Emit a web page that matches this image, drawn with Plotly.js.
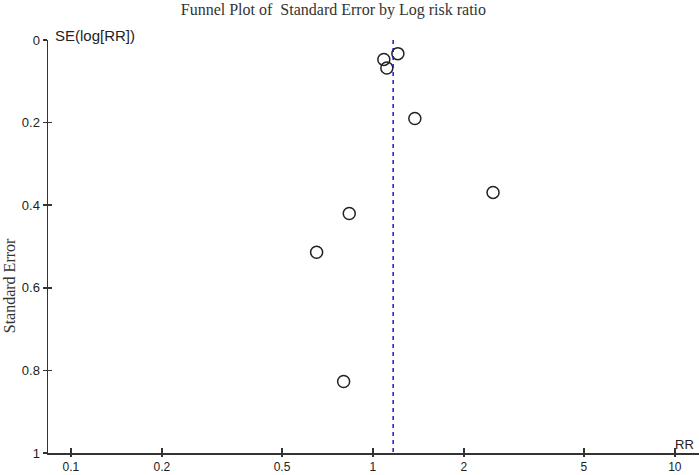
<!DOCTYPE html>
<html>
<head>
<meta charset="utf-8">
<script src="https://cdn.plot.ly/plotly-3.0.1.min.js"></script>
<style>html,body{margin:0;padding:0;background:#fff;}#chart{width:699px;height:475px;}</style>
</head>
<body>
<div id="chart"></div>
<script>
// Study estimates
const riskRatio = [1.087, 1.21, 1.112, 1.377, 2.50, 0.835, 0.651, 0.80];
const standardError = [0.047, 0.033, 0.068, 0.19, 0.369, 0.42, 0.514, 0.827];
const summaryRR = 1.167;
const xTickVals = [0.1, 0.2, 0.5, 1, 2, 5, 10];
const xTickText = ["0.1", "0.2", "0.5", "1", "2", "5", "10"];
const yTickVals = [0, 0.2, 0.4, 0.6, 0.8, 1];
const yTickText = ["0", "0.2", "0.4", "0.6", "0.8", "1"];

const axisColor = "#333";
const xRange = [-1.076, 1.08];
const yRange = [1, 0];

const traces = [
  {
    x: riskRatio, y: standardError, type: "scatter", mode: "markers",
    marker: {symbol: "circle-open", size: 12, color: "#222", line: {width: 1.5, color: "#222"}},
    hoverinfo: "x+y", showlegend: false
  },
  {
    x: [summaryRR, summaryRR], y: [0, 1], type: "scatter", mode: "lines",
    line: {color: "#1a1acc", width: 1.5, dash: "4px,4px"},
    showlegend: false, hoverinfo: "skip"
  },
  {
    x: [summaryRR], y: [0], xaxis: "x2", yaxis: "y2", type: "scatter", mode: "markers",
    marker: {opacity: 0}, showlegend: false, hoverinfo: "skip"
  }
];

const sans = "Liberation Sans, Arial, sans-serif";
const serif = "Liberation Serif, Times New Roman, serif";

const layout = {
  width: 699, height: 475,
  margin: {l: 48, r: 0, t: 40, b: 22},
  paper_bgcolor: "#fff", plot_bgcolor: "#fff",
  title: {
    text: "Funnel Plot of  Standard Error by Log risk ratio",
    font: {family: serif, size: 16, color: "#333"},
    x: 0.477, xref: "container", xanchor: "center", y: 0.981, yref: "container", yanchor: "middle"
  },
  xaxis: {
    type: "log", range: xRange, tickvals: xTickVals, ticktext: xTickText,
    showgrid: false, zeroline: false, showline: true, linecolor: axisColor, linewidth: 1.5,
    ticks: "outside", ticklen: 2, tickwidth: 1.5, tickcolor: axisColor,
    tickfont: {family: sans, size: 12, color: "#222"}
  },
  xaxis2: {
    type: "log", range: xRange, overlaying: "x", tickvals: xTickVals,
    showticklabels: false, showgrid: false, zeroline: false, showline: false,
    ticks: "inside", ticklen: 5, tickwidth: 1.5, tickcolor: axisColor, side: "bottom"
  },
  yaxis: {
    range: yRange, tickvals: yTickVals, ticktext: yTickText,
    showgrid: false, zeroline: false, showline: true, linecolor: axisColor, linewidth: 1.5,
    ticks: "outside", ticklen: 4, tickwidth: 1.5, tickcolor: axisColor,
    tickfont: {family: sans, size: 13, color: "#222"}
  },
  yaxis2: {
    range: yRange, overlaying: "y", tickvals: yTickVals,
    showticklabels: false, showgrid: false, zeroline: false, showline: false,
    ticks: "inside", ticklen: 4, tickwidth: 1.5, tickcolor: axisColor, side: "left"
  },
  annotations: [
    {text: "Standard Error", textangle: -90, xref: "paper", yref: "paper",
     x: -0.06, y: 0.406, xanchor: "center", yanchor: "middle", showarrow: false,
     font: {family: serif, size: 16, color: "#333"}},
    {text: "SE(log[RR])", xref: "paper", yref: "paper",
     x: 0.008, y: 1.0097, xanchor: "left", yanchor: "middle", showarrow: false,
     font: {family: sans, size: 15, color: "#222"}},
    {text: "RR", xref: "paper", yref: "paper",
     x: 0.996, y: 0.02, xanchor: "right", yanchor: "middle", showarrow: false,
     font: {family: sans, size: 13, color: "#222"}}
  ]
};

Plotly.newPlot("chart", traces, layout, {displayModeBar: false, staticPlot: true});
</script>
</body>
</html>
